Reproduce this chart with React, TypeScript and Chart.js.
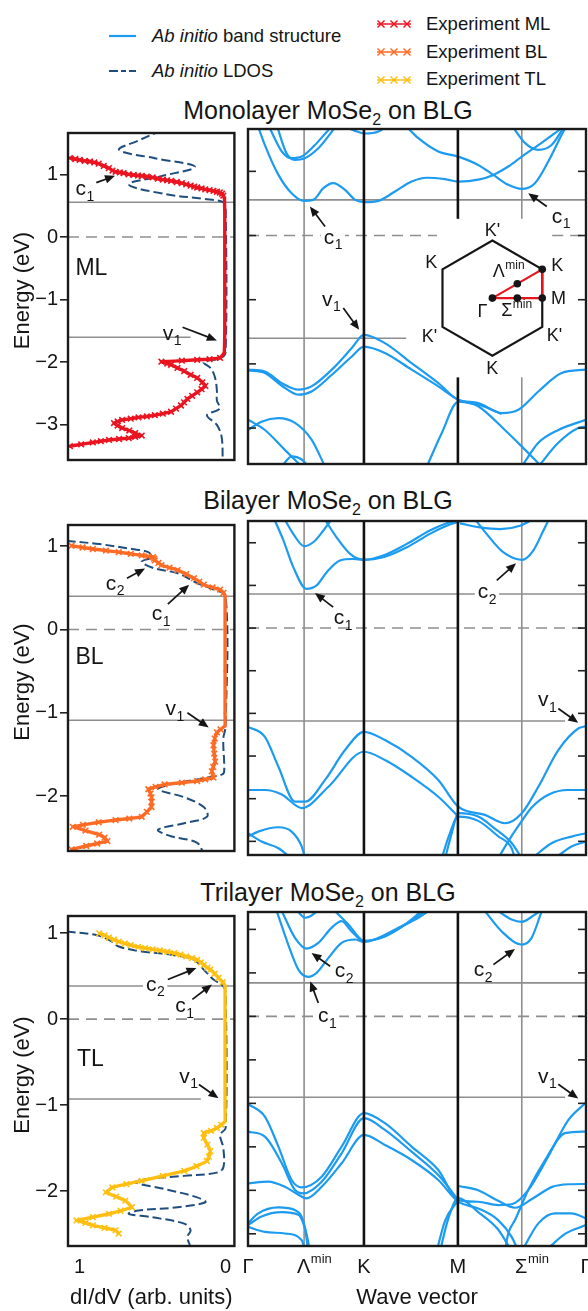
import React, { useEffect, useRef } from "react";
import { Chart, registerables } from "chart.js";

Chart.register(...registerables);

const FONT = "'Liberation Sans', Arial, Helvetica, sans-serif";
const BAND_COLOR = "#1c9bf0";
const LDOS_COLOR = "#1f4e7e";
const REF_GRAY = "#8e8e8e";
const INK = "#151515";
const ML_COLOR = "#ea1420";
const BL_COLOR = "#ff6b24";
const TL_COLOR = "#ffbf12";

// ---------- axes ----------
const K_POS = [0, 0.166, 0.343, 0.621, 0.81, 1];
const K_NAMES = ["Γ", "Λ", "K", "M", "Σ", "Γ"];
const K_SUPS = ["", "min", "", "", "min", ""];
const DIDV_TICKS = [1, 0];
const DIDV_RANGE = [-0.06, 1.08];

const ML_RANGE = [-3.56, 1.66];
const BL_RANGE = [-2.66, 1.255];
const TL_RANGE = [-2.64, 1.2];
const ML_LEVELS = [0.555, -1.6];
const BL_LEVELS = [0.4, -1.09];
const TL_LEVELS = [0.385, -0.93];
const ML_BAND_TICKS = [1, 0, -1, -2, -3];
const BL_BAND_TICKS = [1, 0.5, 0, -0.5, -1, -1.5, -2, -2.5];
const TL_BAND_TICKS = [1, 0.5, 0, -0.5, -1, -1.5, -2, -2.5];

// ---------- monolayer bands [k, E] ----------
const ML_C1 = [[0.021,1.83],[0.05,1.41],[0.09,0.945],[0.129,0.66],[0.166,0.54],[0.193,0.555],[0.223,0.738],[0.252,0.816],[0.287,0.712],[0.317,0.555],[0.346,0.52],[0.386,0.54],[0.435,0.686],[0.484,0.841],[0.529,0.9],[0.583,0.878],[0.622,0.841],[0.681,0.87],[0.726,0.945],[0.77,1.075],[0.81,1.23],[0.859,1.41],[0.908,1.595],[0.938,1.72]];
const ML_C2 = [[0.465,1.72],[0.504,1.517],[0.563,1.31],[0.622,1.23],[0.681,1.1],[0.726,0.945],[0.77,0.79],[0.81,0.727],[0.849,0.816],[0.888,1.15],[0.928,1.57],[0.943,1.72]];
const ML_C3 = [[0.78,1.72],[0.82,1.44],[0.859,1.335],[0.898,1.41],[0.938,1.72]];
const ML_C4 = [[0.06,1.72],[0.1,1.31],[0.129,1.205],[0.159,1.23],[0.198,1.41],[0.238,1.646],[0.252,1.72]];
const ML_C5 = [[0.085,1.72],[0.114,1.28],[0.139,1.18],[0.168,1.205],[0.208,1.36],[0.248,1.62],[0.262,1.72]];
const ML_C6 = [[0.277,1.72],[0.317,1.63],[0.346,1.59],[0.386,1.62],[0.415,1.72]];
const ML_V1 = [[0,-2.09],[0.05,-2.118],[0.1,-2.3],[0.149,-2.4],[0.188,-2.35],[0.248,-2.09],[0.307,-1.754],[0.343,-1.547],[0.405,-1.676],[0.484,-1.988],[0.563,-2.3],[0.622,-2.56],[0.681,-2.61],[0.75,-2.767],[0.8,-2.715],[0.859,-2.43],[0.928,-2.143],[1,-2.09]];
const ML_V2 = [[0,-2.1],[0.05,-2.143],[0.1,-2.34],[0.149,-2.48],[0.188,-2.43],[0.248,-2.17],[0.307,-1.885],[0.343,-1.73],[0.405,-1.83],[0.484,-2.09],[0.563,-2.35],[0.622,-2.56],[0.681,-2.66],[0.76,-3.03],[0.82,-3.34],[0.869,-3.6]];
const ML_V3 = [[0.529,-3.6],[0.573,-3.08],[0.622,-2.59],[0.681,-2.63],[0.75,-2.78]];
const ML_V4 = [[0,-3.03],[0.04,-2.9],[0.09,-2.845],[0.139,-2.92],[0.188,-3.18],[0.228,-3.6]];
const ML_V5 = [[0,-2.87],[0.05,-3.03],[0.109,-3.34],[0.159,-3.6]];
const ML_V6 = [[0.1,-3.6],[0.129,-3.44],[0.159,-3.49],[0.178,-3.6]];
const ML_V7 = [[0.81,-3.6],[0.859,-3.23],[0.918,-3.03],[1,-2.87]];
const ML_V8 = [[0.859,-3.6],[0.918,-3.23],[0.977,-3.0],[1,-2.975]];
const ML_BANDS = [ML_C1, ML_C2, ML_C3, ML_C4, ML_C5, ML_C6, ML_V1, ML_V2, ML_V3, ML_V4, ML_V5, ML_V6, ML_V7, ML_V8];

// ---------- bilayer bands ----------
const BL_C1 = [[0.075,1.3],[0.105,1.026],[0.134,0.714],[0.173,0.46],[0.203,0.5],[0.233,0.655],[0.272,0.792],[0.312,0.81],[0.343,0.8],[0.4,0.85],[0.47,0.987],[0.538,1.143],[0.588,1.228],[0.627,1.27]];
const BL_C2 = [[0.223,1.3],[0.262,1.064],[0.302,0.87],[0.343,0.8],[0.4,0.83],[0.47,0.947],[0.538,1.104],[0.588,1.2],[0.627,1.25]];
const BL_C3 = [[0.105,1.3],[0.134,1.104],[0.166,0.96],[0.193,1.006],[0.223,1.143],[0.252,1.3]];
const BL_C4 = [[0.667,1.3],[0.706,1.104],[0.755,0.889],[0.81,0.8],[0.844,0.909],[0.874,1.143],[0.893,1.3]];
const BL_C5 = [[0.627,1.228],[0.686,1.18],[0.746,1.16],[0.805,1.2],[0.844,1.28],[0.86,1.32]];
const BL_V1 = [[0,-1.158],[0.05,-1.275],[0.09,-1.626],[0.139,-2.035],[0.169,-2.035],[0.228,-1.78],[0.287,-1.43],[0.343,-1.216],[0.405,-1.313],[0.484,-1.509],[0.563,-1.78],[0.622,-2.094],[0.701,-2.19],[0.76,-2.288],[0.81,-2.17],[0.859,-1.86],[0.918,-1.43],[0.977,-1.177],[1,-1.15]];
const BL_V2 = [[0,-1.898],[0.05,-1.898],[0.1,-1.95],[0.159,-2.11],[0.238,-1.86],[0.343,-1.45],[0.405,-1.547],[0.484,-1.743],[0.563,-1.977],[0.622,-2.21]];
const BL_V3 = [[0.74,-2.7],[0.77,-2.5],[0.8,-2.32],[0.84,-2.1],[0.89,-1.95],[0.947,-1.898],[1,-1.898]];
const BL_V4 = [[0,-2.444],[0.03,-2.386],[0.09,-2.335],[0.129,-2.386],[0.159,-2.561],[0.169,-2.7]];
const BL_V5 = [[0,-2.405],[0.04,-2.503],[0.09,-2.58],[0.129,-2.7]];
const BL_V6 = [[0.84,-2.7],[0.898,-2.522],[0.957,-2.444],[1,-2.405]];
const BL_V7 = [[0.908,-2.7],[0.957,-2.561],[1,-2.503]];
const BL_V8 = [[0.573,-2.7],[0.595,-2.43],[0.622,-2.21],[0.681,-2.26],[0.74,-2.44],[0.78,-2.58],[0.79,-2.7]];
const BL_V9 = [[0.583,-2.7],[0.603,-2.4],[0.622,-2.17],[0.681,-2.21],[0.73,-2.35],[0.78,-2.52],[0.81,-2.7]];
const BL_BANDS = [BL_C1, BL_C2, BL_C3, BL_C4, BL_C5, BL_V1, BL_V2, BL_V3, BL_V4, BL_V5, BL_V6, BL_V7, BL_V8, BL_V9];

// ---------- trilayer bands ----------
const TL_C1 = [[0.085,1.21],[0.119,0.826],[0.149,0.538],[0.178,0.454],[0.203,0.5],[0.238,0.673],[0.277,0.845],[0.317,0.884],[0.343,0.857],[0.386,0.903],[0.445,1.018],[0.504,1.134],[0.534,1.21]];
const TL_C2 = [[0.1,1.21],[0.139,0.903],[0.173,0.78],[0.208,0.845],[0.247,1.018],[0.277,1.094],[0.306,0.979],[0.343,0.864],[0.405,0.922],[0.474,1.076],[0.523,1.21]];
const TL_C3 = [[0.139,1.25],[0.169,1.134],[0.198,1.19],[0.21,1.25]];
const TL_C4 = [[0.257,1.21],[0.297,1.056],[0.343,0.87],[0.395,0.903],[0.464,1.056],[0.513,1.21]];
const TL_C5 = [[0.701,1.21],[0.75,0.979],[0.81,0.826],[0.839,0.903],[0.869,1.21]];
const TL_C6 = [[0.74,1.21],[0.78,1.114],[0.81,1.087],[0.849,1.172],[0.864,1.21]];
const TL_V1 = [[0,-1.006],[0.05,-1.152],[0.09,-1.498],[0.129,-1.881],[0.159,-1.966],[0.218,-1.843],[0.277,-1.498],[0.343,-1.113],[0.405,-1.228],[0.484,-1.498],[0.563,-1.766],[0.622,-2.112],[0.681,-2.131],[0.74,-2.169],[0.78,-2.16],[0.829,-1.997],[0.888,-1.613],[0.948,-1.19],[1,-0.991]];
const TL_V2 = [[0,-1.325],[0.05,-1.382],[0.1,-1.689],[0.139,-1.997],[0.164,-2.035],[0.218,-1.901],[0.277,-1.574],[0.343,-1.17],[0.405,-1.305],[0.484,-1.555],[0.563,-1.824],[0.622,-2.112]];
const TL_V3 = [[0.76,-2.7],[0.77,-2.496],[0.79,-2.342],[0.829,-1.997],[0.879,-1.651],[0.938,-1.343],[1,-1.325]];
const TL_V4 = [[0,-1.92],[0.06,-1.9],[0.109,-1.959],[0.149,-2.05],[0.173,-2.092],[0.218,-1.959],[0.277,-1.689],[0.343,-1.363],[0.405,-1.478],[0.484,-1.651],[0.563,-1.881],[0.622,-2.131],[0.681,-2.208],[0.74,-2.342],[0.78,-2.535],[0.8,-2.7]];
const TL_V5 = [[0.622,-1.95],[0.681,-2.0],[0.74,-2.12],[0.79,-2.2],[0.84,-2.1],[0.9,-1.96],[0.95,-1.93],[1,-1.927]];
const TL_V6 = [[0,-2.38],[0.03,-2.265],[0.09,-2.196],[0.139,-2.227],[0.168,-2.42],[0.178,-2.7]];
const TL_V7 = [[0,-2.4],[0.04,-2.3],[0.1,-2.25],[0.149,-2.28],[0.173,-2.5],[0.183,-2.7]];
const TL_V8 = [[0,-2.42],[0.05,-2.477],[0.109,-2.496],[0.159,-2.573],[0.169,-2.7]];
const TL_V9 = [[0.558,-2.7],[0.583,-2.35],[0.622,-2.112]];
const TL_V10 = [[0.568,-2.7],[0.593,-2.32],[0.622,-2.09],[0.681,-2.25],[0.74,-2.45],[0.78,-2.7]];
const TL_V11 = [[0.81,-2.7],[0.859,-2.38],[0.908,-2.265],[0.957,-2.265],[1,-2.323]];
const TL_V12 = [[0.879,-2.7],[0.938,-2.5],[1,-2.4]];
const TL_BANDS = [TL_C1, TL_C2, TL_C3, TL_C4, TL_C5, TL_C6, TL_V1, TL_V2, TL_V3, TL_V4, TL_V5, TL_V6, TL_V7, TL_V8, TL_V9, TL_V10, TL_V11, TL_V12];

// ---------- dI/dV experiment and LDOS [dI/dV, E] ----------
const ML_EXP = [[1.067,1.26],[1.03,1.245],[1.0,1.23],[0.965,1.215],[0.93,1.205],[0.9,1.19],[0.87,1.17],[0.835,1.135],[0.8,1.1],[0.775,1.06],[0.754,1.04],[0.725,1.03],[0.7,1.02],[0.665,1.0],[0.63,0.99],[0.6,0.98],[0.575,0.975],[0.54,0.965],[0.5,0.95],[0.465,0.93],[0.43,0.915],[0.4,0.905],[0.374,0.895],[0.335,0.878],[0.3,0.86],[0.27,0.84],[0.24,0.82],[0.215,0.805],[0.195,0.79],[0.165,0.775],[0.14,0.76],[0.11,0.748],[0.083,0.735],[0.06,0.722],[0.04,0.71],[0.025,0.69],[0.016,0.66],[0.01,0.63],[0.008,0.6],[0.006,0.4],[0.006,0.0],[0.006,-0.5],[0.006,-1.0],[0.006,-1.5],[0.01,-1.85],[0.038,-1.93],[0.11,-1.95],[0.195,-1.96],[0.3,-1.975],[0.44,-1.99],[0.4,-2.02],[0.374,-2.04],[0.33,-2.09],[0.284,-2.14],[0.24,-2.2],[0.195,-2.25],[0.16,-2.32],[0.139,-2.377],[0.165,-2.43],[0.195,-2.48],[0.23,-2.535],[0.262,-2.585],[0.285,-2.64],[0.306,-2.69],[0.34,-2.74],[0.374,-2.79],[0.43,-2.82],[0.485,-2.845],[0.54,-2.865],[0.597,-2.88],[0.65,-2.9],[0.709,-2.92],[0.74,-2.945],[0.765,-2.97],[0.74,-3.01],[0.709,-3.05],[0.66,-3.09],[0.62,-3.13],[0.575,-3.17],[0.62,-3.19],[0.664,-3.21],[0.73,-3.225],[0.799,-3.24],[0.855,-3.26],[0.91,-3.28],[0.99,-3.31],[1.067,-3.34]];
const ML_LDOS = [[0.44,1.7],[0.597,1.54],[0.73,1.39],[0.485,1.257],[0.21,1.12],[0.44,0.972],[0.664,0.84],[0.418,0.686],[0.15,0.608],[0.016,0.555],[0,0.45],[0,-1.83],[0.03,-1.93],[0.15,-2.0],[0.1,-2.1],[0.072,-2.25],[0.06,-2.45],[0.06,-2.61],[0.04,-2.74],[0.128,-2.845],[0.06,-3.0],[0.027,-3.2],[0.02,-3.6]];
const BL_EXP = [[1.056,1.006],[0.98,0.985],[0.91,0.967],[0.82,0.948],[0.732,0.929],[0.65,0.909],[0.575,0.889],[0.53,0.878],[0.497,0.87],[0.49,0.85],[0.485,0.83],[0.46,0.8],[0.44,0.772],[0.385,0.742],[0.329,0.714],[0.27,0.665],[0.217,0.616],[0.18,0.575],[0.15,0.538],[0.09,0.505],[0.038,0.48],[0.015,0.44],[0.004,0.4],[0.004,0.0],[0.004,-0.5],[0.004,-1.0],[0.004,-1.158],[0.035,-1.2],[0.06,-1.235],[0.075,-1.31],[0.083,-1.39],[0.078,-1.49],[0.072,-1.586],[0.085,-1.65],[0.094,-1.703],[0.083,-1.78],[0.14,-1.8],[0.195,-1.82],[0.3,-1.84],[0.418,-1.86],[0.48,-1.89],[0.53,-1.918],[0.515,-1.97],[0.508,-2.015],[0.508,-2.07],[0.508,-2.132],[0.54,-2.19],[0.575,-2.249],[0.66,-2.27],[0.754,-2.288],[0.87,-2.315],[0.978,-2.346],[1.047,-2.37],[0.96,-2.415],[0.866,-2.463],[0.83,-2.5],[0.81,-2.541],[0.88,-2.57],[0.955,-2.6],[1.056,-2.64]];
const BL_LDOS = [[1.09,1.064],[0.866,1.026],[0.642,0.967],[0.53,0.929],[0.508,0.87],[0.575,0.812],[0.485,0.733],[0.329,0.675],[0.195,0.558],[0.083,0.48],[0,0.4],[0,-1.158],[0.016,-1.313],[0.01,-1.703],[0.027,-1.743],[0.195,-1.8],[0.374,-1.86],[0.463,-1.918],[0.284,-2.015],[0.15,-2.132],[0.128,-2.249],[0.284,-2.327],[0.463,-2.405],[0.374,-2.483],[0.195,-2.561],[0.15,-2.7]];
const TL_EXP = [[0.866,0.999],[0.83,0.975],[0.8,0.95],[0.765,0.925],[0.732,0.903],[0.69,0.88],[0.65,0.86],[0.6,0.84],[0.552,0.826],[0.5,0.812],[0.45,0.8],[0.4,0.784],[0.351,0.768],[0.31,0.75],[0.27,0.73],[0.23,0.71],[0.195,0.691],[0.17,0.66],[0.15,0.63],[0.125,0.6],[0.105,0.576],[0.075,0.53],[0.049,0.48],[0.02,0.43],[0.004,0.385],[0.004,0.0],[0.004,-0.5],[0.004,-1.0],[0.004,-1.19],[0.03,-1.23],[0.06,-1.267],[0.1,-1.3],[0.15,-1.325],[0.15,-1.382],[0.125,-1.46],[0.105,-1.536],[0.115,-1.6],[0.128,-1.651],[0.2,-1.71],[0.284,-1.766],[0.43,-1.825],[0.575,-1.881],[0.68,-1.92],[0.776,-1.958],[0.821,-2.016],[0.75,-2.065],[0.687,-2.112],[0.642,-2.189],[0.72,-2.23],[0.799,-2.265],[0.91,-2.305],[1.022,-2.342],[0.96,-2.37],[0.91,-2.4],[0.83,-2.43],[0.754,-2.457],[0.732,-2.495]];
const TL_LDOS = [[1.09,1.018],[0.888,0.979],[0.799,0.922],[0.732,0.845],[0.575,0.788],[0.374,0.749],[0.217,0.691],[0.15,0.576],[0.083,0.461],[0.016,0.385],[0,0.3],[0,-1.267],[0.038,-1.344],[0.016,-1.498],[0.016,-1.728],[0.06,-1.786],[0.284,-1.824],[0.552,-1.862],[0.62,-1.9],[0.418,-1.977],[0.195,-2.074],[0.139,-2.131],[0.329,-2.189],[0.597,-2.227],[0.664,-2.265],[0.508,-2.304],[0.284,-2.38],[0.24,-2.457],[0.262,-2.535],[0.228,-2.7]];

// ---------- annotations (data coords) ----------
const ML_LEFT_NOTES = [
  { t: "c", s: "1", at: [0.966, 0.76], from: [0.886, 0.868], to: [0.758, 0.977] },
  { t: "v", s: "1", at: [0.369, -1.547], from: [0.295, -1.442], to: [0.06, -1.651] },
];
const ML_RIGHT_NOTES = [
  { t: "c", s: "1", at: [0.251, -0.036], from: [0.228, 0.14], to: [0.183, 0.452], bg: true },
  { t: "c", s: "1", at: [0.926, 0.29], from: [0.884, 0.452], to: [0.829, 0.66] },
  { t: "v", s: "1", at: [0.246, -1.0], from: [0.282, -1.13], to: [0.329, -1.469] },
];
const BL_LEFT_NOTES = [
  { t: "c", s: "2", at: [0.758, 0.546], from: [0.676, 0.616], to: [0.552, 0.733] },
  { t: "c", s: "1", at: [0.443, 0.184], from: [0.396, 0.304], to: [0.25, 0.538] },
  { t: "v", s: "1", at: [0.349, -0.962], from: [0.262, -1.0], to: [0.116, -1.177] },
];
const BL_RIGHT_NOTES = [
  { t: "c", s: "1", at: [0.281, 0.113], from: [0.252, 0.246], to: [0.198, 0.41] },
  { t: "c", s: "2", at: [0.707, 0.418], from: [0.736, 0.558], to: [0.793, 0.76], bg: true },
  { t: "v", s: "1", at: [0.885, -0.845], from: [0.918, -0.943], to: [0.977, -1.111] },
];
const TL_LEFT_NOTES = [
  { t: "c", s: "2", at: [0.483, 0.4], from: [0.396, 0.461], to: [0.2, 0.595], bg: true },
  { t: "c", s: "1", at: [0.282, 0.146], from: [0.228, 0.23], to: [0.094, 0.403] },
  { t: "v", s: "1", at: [0.255, -0.67], from: [0.183, -0.76], to: [0.049, -0.922] },
];
const TL_RIGHT_NOTES = [
  { t: "c", s: "2", at: [0.284, 0.515], from: [0.243, 0.576], to: [0.188, 0.73] },
  { t: "c", s: "1", at: [0.234, 0.0], from: [0.208, 0.154], to: [0.184, 0.403], bg: true },
  { t: "c", s: "2", at: [0.695, 0.526], from: [0.726, 0.595], to: [0.79, 0.776] },
  { t: "v", s: "1", at: [0.885, -0.694], from: [0.918, -0.78], to: [0.977, -0.945] },
];

const ROWS = [
  {
    title: "Monolayer", tag: "ML", tagAt: [0.92, -0.5], range: ML_RANGE, levels: ML_LEVELS, bandTicks: ML_BAND_TICKS,
    bands: ML_BANDS, exp: ML_EXP, ldos: ML_LDOS, color: ML_COLOR, leftNotes: ML_LEFT_NOTES, rightNotes: ML_RIGHT_NOTES,
    vLeft: [1.08, 0.24], vRight: [0, 0.468], zeroRight: [[0, 0.559], [0.9, 1]], gap: [0.26, -2.21], inset: [0.723, -0.975],
    top: 129, bottom: 464, titleBase: 118, last: false,
  },
  {
    title: "Bilayer", tag: "BL", tagAt: [0.933, -0.343], range: BL_RANGE, levels: BL_LEVELS, bandTicks: BL_BAND_TICKS,
    bands: BL_BANDS, exp: BL_EXP, ldos: BL_LDOS, color: BL_COLOR, leftNotes: BL_LEFT_NOTES, rightNotes: BL_RIGHT_NOTES,
    vLeft: [1.08, -0.06], vRight: [0, 0.938], zeroRight: [[0, 1]], gap: null, inset: null,
    top: 521, bottom: 855, titleBase: 508, last: false,
  },
  {
    title: "Trilayer", tag: "TL", tagAt: [0.926, -0.476], range: TL_RANGE, levels: TL_LEVELS, bandTicks: TL_BAND_TICKS,
    bands: TL_BANDS, exp: TL_EXP, ldos: TL_LDOS, color: TL_COLOR, leftNotes: TL_LEFT_NOTES, rightNotes: TL_RIGHT_NOTES,
    vLeft: [1.08, 0.17], vRight: [0, 0.938], zeroRight: [[0, 1]], gap: null, inset: null,
    top: 912, bottom: 1246, titleBase: 900, last: true,
  },
];

// ---------- drawing helpers ----------
function line(ctx, x1, y1, x2, y2) {
  ctx.beginPath();
  ctx.moveTo(x1, y1);
  ctx.lineTo(x2, y2);
  ctx.stroke();
}

function subText(ctx, base, small, x, y, size, bg, sup) {
  const ss = Math.round(size * 0.66);
  ctx.font = `${size}px ${FONT}`;
  const wb = ctx.measureText(base).width;
  ctx.font = `${ss}px ${FONT}`;
  const ws = small ? ctx.measureText(small).width : 0;
  const x0 = x - (wb + ws) / 2;
  if (bg) {
    ctx.fillStyle = "#fff";
    ctx.fillRect(x0 - 3, y - size * 0.5, wb + ws + 6, size * 1.05);
  }
  ctx.fillStyle = INK;
  ctx.textAlign = "left";
  ctx.textBaseline = "middle";
  ctx.font = `${size}px ${FONT}`;
  ctx.fillText(base, x0, y);
  if (small) {
    ctx.font = `${ss}px ${FONT}`;
    ctx.fillText(small, x0 + wb + 0.5, sup ? y - size * 0.38 : y + size * 0.36);
  }
}

function arrow(ctx, x1, y1, x2, y2) {
  const a = Math.atan2(y2 - y1, x2 - x1);
  const L = 10, W = 4.2;
  ctx.strokeStyle = INK;
  ctx.lineWidth = 1.7;
  ctx.setLineDash([]);
  line(ctx, x1, y1, x2 - L * 0.7 * Math.cos(a), y2 - L * 0.7 * Math.sin(a));
  ctx.fillStyle = INK;
  ctx.beginPath();
  ctx.moveTo(x2, y2);
  ctx.lineTo(x2 - L * Math.cos(a) + W * Math.sin(a), y2 - L * Math.sin(a) - W * Math.cos(a));
  ctx.lineTo(x2 - L * Math.cos(a) - W * Math.sin(a), y2 - L * Math.sin(a) + W * Math.cos(a));
  ctx.closePath();
  ctx.fill();
}

function drawNotes(chart, notes) {
  const ctx = chart.ctx;
  const sx = chart.scales.x, sy = chart.scales.y;
  notes.forEach((n) => {
    subText(ctx, n.t, n.s, sx.getPixelForValue(n.at[0]), sy.getPixelForValue(n.at[1]), 21, !!n.bg, false);
    arrow(ctx, sx.getPixelForValue(n.from[0]), sy.getPixelForValue(n.from[1]), sx.getPixelForValue(n.to[0]), sy.getPixelForValue(n.to[1]));
  });
}

function frame(chart) {
  const ctx = chart.ctx;
  const a = chart.chartArea;
  ctx.save();
  ctx.setLineDash([]);
  ctx.strokeStyle = "#1a1a1a";
  ctx.lineWidth = 2.4;
  ctx.strokeRect(a.left, a.top, a.right - a.left, a.bottom - a.top);
  ctx.restore();
}

function hSeg(chart, E, x0, x1, dashed) {
  const ctx = chart.ctx;
  const sx = chart.scales.x, sy = chart.scales.y;
  ctx.strokeStyle = REF_GRAY;
  ctx.lineWidth = 1.6;
  ctx.setLineDash(dashed ? [11, 7] : []);
  const y = sy.getPixelForValue(E);
  line(ctx, sx.getPixelForValue(x0), y, sx.getPixelForValue(x1), y);
  ctx.setLineDash([]);
}

function vSeg(chart, k, e0, e1, color, width) {
  const ctx = chart.ctx;
  const sx = chart.scales.x, sy = chart.scales.y;
  ctx.strokeStyle = color;
  ctx.lineWidth = width;
  ctx.setLineDash([]);
  const x = sx.getPixelForValue(k);
  line(ctx, x, sy.getPixelForValue(e0), x, sy.getPixelForValue(e1));
}

function drawInset(ctx, cx, cy) {
  const R = 57.6;
  const v = [];
  for (let i = 0; i < 6; i++) {
    const a = -Math.PI / 2 + (i * Math.PI) / 3;
    v.push([cx + R * Math.cos(a), cy + R * Math.sin(a)]);
  }
  ctx.save();
  ctx.setLineDash([]);
  ctx.strokeStyle = INK;
  ctx.lineWidth = 2.2;
  ctx.beginPath();
  v.forEach((p, i) => (i ? ctx.lineTo(p[0], p[1]) : ctx.moveTo(p[0], p[1])));
  ctx.closePath();
  ctx.stroke();
  const K = v[1];
  const M = [(v[1][0] + v[2][0]) / 2, (v[1][1] + v[2][1]) / 2];
  const L = [(cx + K[0]) / 2, (cy + K[1]) / 2];
  const S = [(cx + M[0]) / 2, (cy + M[1]) / 2];
  ctx.strokeStyle = "#e8141c";
  ctx.lineWidth = 2.2;
  ctx.beginPath();
  ctx.moveTo(cx, cy);
  ctx.lineTo(K[0], K[1]);
  ctx.lineTo(M[0], M[1]);
  ctx.closePath();
  ctx.stroke();
  ctx.fillStyle = INK;
  [[cx, cy], L, K, M, S].forEach((p) => {
    ctx.beginPath();
    ctx.arc(p[0], p[1], 3.8, 0, Math.PI * 2);
    ctx.fill();
  });
  const labels = [
    ["K'", "", 0, -67], ["K", "", -61, -35], ["K", "", 65, -32], ["M", "", 66, 1],
    ["K'", "", 62, 38], ["K'", "", -63, 39], ["K", "", 0, 71], ["Γ", "", -10, 14],
    ["Σ", "min", 24, 13], ["Λ", "min", 16, -26],
  ];
  labels.forEach((l) => subText(ctx, l[0], l[1], cx + l[2], cy + l[3], 18, false, true));
  ctx.restore();
}

// ---------- chart configs ----------
function ldosConfig(row, padTop, padBottom) {
  const plugin = {
    id: "ldosDecor",
    beforeDatasetsDraw(chart) {
      const ctx = chart.ctx;
      const a = chart.chartArea;
      ctx.save();
      ctx.beginPath();
      ctx.rect(a.left, a.top, a.right - a.left, a.bottom - a.top);
      ctx.clip();
      hSeg(chart, row.levels[0], DIDV_RANGE[1], DIDV_RANGE[0], false);
      hSeg(chart, row.levels[1], row.vLeft[0], row.vLeft[1], false);
      hSeg(chart, 0, DIDV_RANGE[1], DIDV_RANGE[0], true);
      ctx.restore();
    },
    afterDatasetsDraw(chart) {
      const ctx = chart.ctx;
      const a = chart.chartArea;
      const sx = chart.scales.x, sy = chart.scales.y;
      frame(chart);
      ctx.save();
      drawNotes(chart, row.leftNotes);
      subText(ctx, row.tag, "", sx.getPixelForValue(row.tagAt[0]), sy.getPixelForValue(row.tagAt[1]), 23, false, false);
      ctx.save();
      ctx.translate(23, (a.top + a.bottom) / 2 - 6);
      ctx.rotate(-Math.PI / 2);
      ctx.font = `22px ${FONT}`;
      ctx.fillStyle = INK;
      ctx.textAlign = "center";
      ctx.textBaseline = "middle";
      ctx.fillText("Energy (eV)", 0, 0);
      ctx.restore();
      if (row.last) {
        ctx.font = `20px ${FONT}`;
        ctx.fillStyle = INK;
        ctx.textAlign = "center";
        ctx.textBaseline = "middle";
        DIDV_TICKS.forEach((t) => ctx.fillText(String(t), sx.getPixelForValue(t), a.bottom + 21));
        ctx.font = `22px ${FONT}`;
        ctx.fillText("dI/dV (arb. units)", (a.left + a.right) / 2, a.bottom + 52);
      }
      ctx.restore();
    },
  };
  return {
    type: "line",
    data: {
      datasets: [
        {
          data: row.exp.map((p) => ({ x: p[0], y: p[1] })),
          borderColor: row.color,
          borderWidth: 3.4,
          tension: 0.05,
          pointStyle: "crossRot",
          pointRadius: (c) => (c.raw && Math.abs(c.raw.x) < 0.012 ? 1.5 : 4),
          pointBorderColor: row.color,
          pointBackgroundColor: row.color,
          pointBorderWidth: 1.6,
          clip: 0,
        },
        {
          data: row.ldos.map((p) => ({ x: p[0], y: p[1] })),
          borderColor: LDOS_COLOR,
          borderWidth: 2,
          borderDash: [9, 4],
          tension: 0.35,
          pointRadius: 0,
          clip: 0,
        },
      ],
    },
    options: {
      animation: false,
      responsive: false,
      devicePixelRatio: 1,
      events: [],
      layout: { padding: { left: 0, right: 2, top: padTop, bottom: padBottom } },
      plugins: { legend: { display: false }, tooltip: { enabled: false } },
      elements: { line: { capBezierPoints: false } },
      scales: {
        x: { type: "linear", reverse: true, min: DIDV_RANGE[0], max: DIDV_RANGE[1], display: false },
        y: {
          type: "linear",
          min: row.range[0],
          max: row.range[1],
          afterFit: (s) => { s.width = 68; },
          ticks: {
            stepSize: 1,
            includeBounds: false,
            padding: 2,
            color: INK,
            font: { family: FONT, size: 20 },
            callback: (v) => (v < 0 ? "\u2212" + Math.abs(v) : String(v)),
          },
          grid: { drawOnChartArea: false, drawTicks: true, tickLength: 8, color: "#222", lineWidth: 1.6 },
          border: { display: false },
        },
      },
    },
    plugins: [plugin],
  };
}

function bandConfig(row, padTop, padBottom) {
  const plugin = {
    id: "bandDecor",
    beforeDatasetsDraw(chart) {
      const ctx = chart.ctx;
      const a = chart.chartArea;
      const [eMin, eMax] = row.range;
      ctx.save();
      ctx.beginPath();
      ctx.rect(a.left, a.top, a.right - a.left, a.bottom - a.top);
      ctx.clip();
      [1, 4].forEach((i) => {
        if (row.gap && i === 4) {
          vSeg(chart, K_POS[i], eMax, row.gap[0], REF_GRAY, 1.6);
          vSeg(chart, K_POS[i], row.gap[1], eMin, REF_GRAY, 1.6);
        } else vSeg(chart, K_POS[i], eMax, eMin, REF_GRAY, 1.6);
      });
      hSeg(chart, row.levels[0], 0, 1, false);
      hSeg(chart, row.levels[1], row.vRight[0], row.vRight[1], false);
      row.zeroRight.forEach((s) => hSeg(chart, 0, s[0], s[1], true));
      ctx.restore();
    },
    afterDatasetsDraw(chart) {
      const ctx = chart.ctx;
      const a = chart.chartArea;
      const sx = chart.scales.x, sy = chart.scales.y;
      const [eMin, eMax] = row.range;
      ctx.save();
      [2, 3].forEach((i) => {
        if (row.gap && i === 3) {
          vSeg(chart, K_POS[i], eMax, row.gap[0], "#111", 2.6);
          vSeg(chart, K_POS[i], row.gap[1], eMin, "#111", 2.6);
        } else vSeg(chart, K_POS[i], eMax, eMin, "#111", 2.6);
      });
      frame(chart);
      ctx.strokeStyle = "#222";
      ctx.lineWidth = 1.6;
      row.bandTicks.forEach((t) => {
        const y = sy.getPixelForValue(t);
        line(ctx, a.left, y, a.left + 8, y);
        line(ctx, a.right - 8, y, a.right, y);
      });
      drawNotes(chart, row.rightNotes);
      if (row.inset) drawInset(ctx, sx.getPixelForValue(row.inset[0]), sy.getPixelForValue(row.inset[1]));
      if (row.last) {
        K_POS.forEach((k, i) => subText(ctx, K_NAMES[i], K_SUPS[i], sx.getPixelForValue(k) + (K_SUPS[i] ? 10 : 0), a.bottom + 21, 20, false, true));
        ctx.font = `22px ${FONT}`;
        ctx.fillStyle = INK;
        ctx.textAlign = "center";
        ctx.textBaseline = "middle";
        ctx.fillText("Wave vector", (a.left + a.right) / 2, a.bottom + 52);
      }
      ctx.restore();
    },
  };
  return {
    type: "line",
    data: {
      datasets: row.bands.map((b) => ({
        data: b.map((p) => ({ x: p[0], y: p[1] })),
        borderColor: BAND_COLOR,
        borderWidth: 2.2,
        pointRadius: 0,
        cubicInterpolationMode: "monotone",
        clip: 0,
      })),
    },
    options: {
      animation: false,
      responsive: false,
      devicePixelRatio: 1,
      events: [],
      layout: { padding: { left: 8, right: 2, top: padTop, bottom: padBottom } },
      plugins: { legend: { display: false }, tooltip: { enabled: false } },
      elements: { line: { capBezierPoints: false } },
      scales: {
        x: { type: "linear", min: 0, max: 1, display: false },
        y: { type: "linear", min: row.range[0], max: row.range[1], display: false },
      },
    },
    plugins: [plugin],
  };
}

function ChartBox({ left, top, width, height, make }) {
  const ref = useRef(null);
  useEffect(() => {
    const chart = new Chart(ref.current, make());
    return () => chart.destroy();
  }, []);
  return (
    <canvas ref={ref} width={width} height={height} style={{ position: "absolute", left, top, width, height }} />
  );
}

function ExpSymbol({ color, y }) {
  return (
    <svg style={{ position: "absolute", left: 376, top: y - 6 }} width={38} height={12}>
      <line x1={1} y1={6} x2={35} y2={6} stroke={color} strokeWidth={1.6} />
      {[5, 18, 31].map((x) => (
        <g key={x} stroke={color} strokeWidth={1.4}>
          <line x1={x - 3.5} y1={2.5} x2={x + 3.5} y2={9.5} />
          <line x1={x - 3.5} y1={9.5} x2={x + 3.5} y2={2.5} />
        </g>
      ))}
    </svg>
  );
}

const textStyle = { position: "absolute", fontSize: 18.5, lineHeight: "20px", color: INK, whiteSpace: "nowrap" };

export default function App() {
  return (
    <div style={{ position: "absolute", left: 0, top: 0, width: 588, height: 1311, background: "#fff", fontFamily: FONT, overflow: "hidden" }}>
      <svg style={{ position: "absolute", left: 108, top: 31 }} width={30} height={10}>
        <line x1={1} y1={5} x2={28} y2={5} stroke={BAND_COLOR} strokeWidth={2.2} />
      </svg>
      <div style={{ ...textStyle, left: 152, top: 26.3 }}><i>Ab initio</i> band structure</div>
      <svg style={{ position: "absolute", left: 108, top: 66 }} width={30} height={10}>
        <line x1={1} y1={5} x2={28} y2={5} stroke={LDOS_COLOR} strokeWidth={2.2} strokeDasharray="9 3 5 3" />
      </svg>
      <div style={{ ...textStyle, left: 152, top: 61.3 }}><i>Ab initio</i> LDOS</div>
      <ExpSymbol color={ML_COLOR} y={24.4} />
      <ExpSymbol color={BL_COLOR} y={51.7} />
      <ExpSymbol color={TL_COLOR} y={79.5} />
      <div style={{ ...textStyle, left: 426, top: 14.3 }}>Experiment ML</div>
      <div style={{ ...textStyle, left: 426, top: 41.6 }}>Experiment BL</div>
      <div style={{ ...textStyle, left: 426, top: 69.4 }}>Experiment TL</div>

      {ROWS.map((row, i) => {
        const padTop = 10;
        const cTop = row.top - padTop;
        const cHeight = row.last ? 1311 - cTop : row.bottom - row.top + 20;
        const padBottom = cTop + cHeight - row.bottom;
        return (
          <React.Fragment key={i}>
            <div style={{ position: "absolute", left: 0, width: 656, top: row.titleBase - 21, textAlign: "center", fontSize: 25, lineHeight: "26px", color: INK, whiteSpace: "nowrap" }}>
              {row.title} MoSe<span style={{ fontSize: 16, position: "relative", top: 6 }}>2</span> on BLG
            </div>
            <ChartBox left={0} top={cTop} width={240} height={cHeight} make={() => ldosConfig(row, padTop, padBottom)} />
            <ChartBox left={240} top={cTop} width={348} height={cHeight} make={() => bandConfig(row, padTop, padBottom)} />
          </React.Fragment>
        );
      })}
    </div>
  );
}
